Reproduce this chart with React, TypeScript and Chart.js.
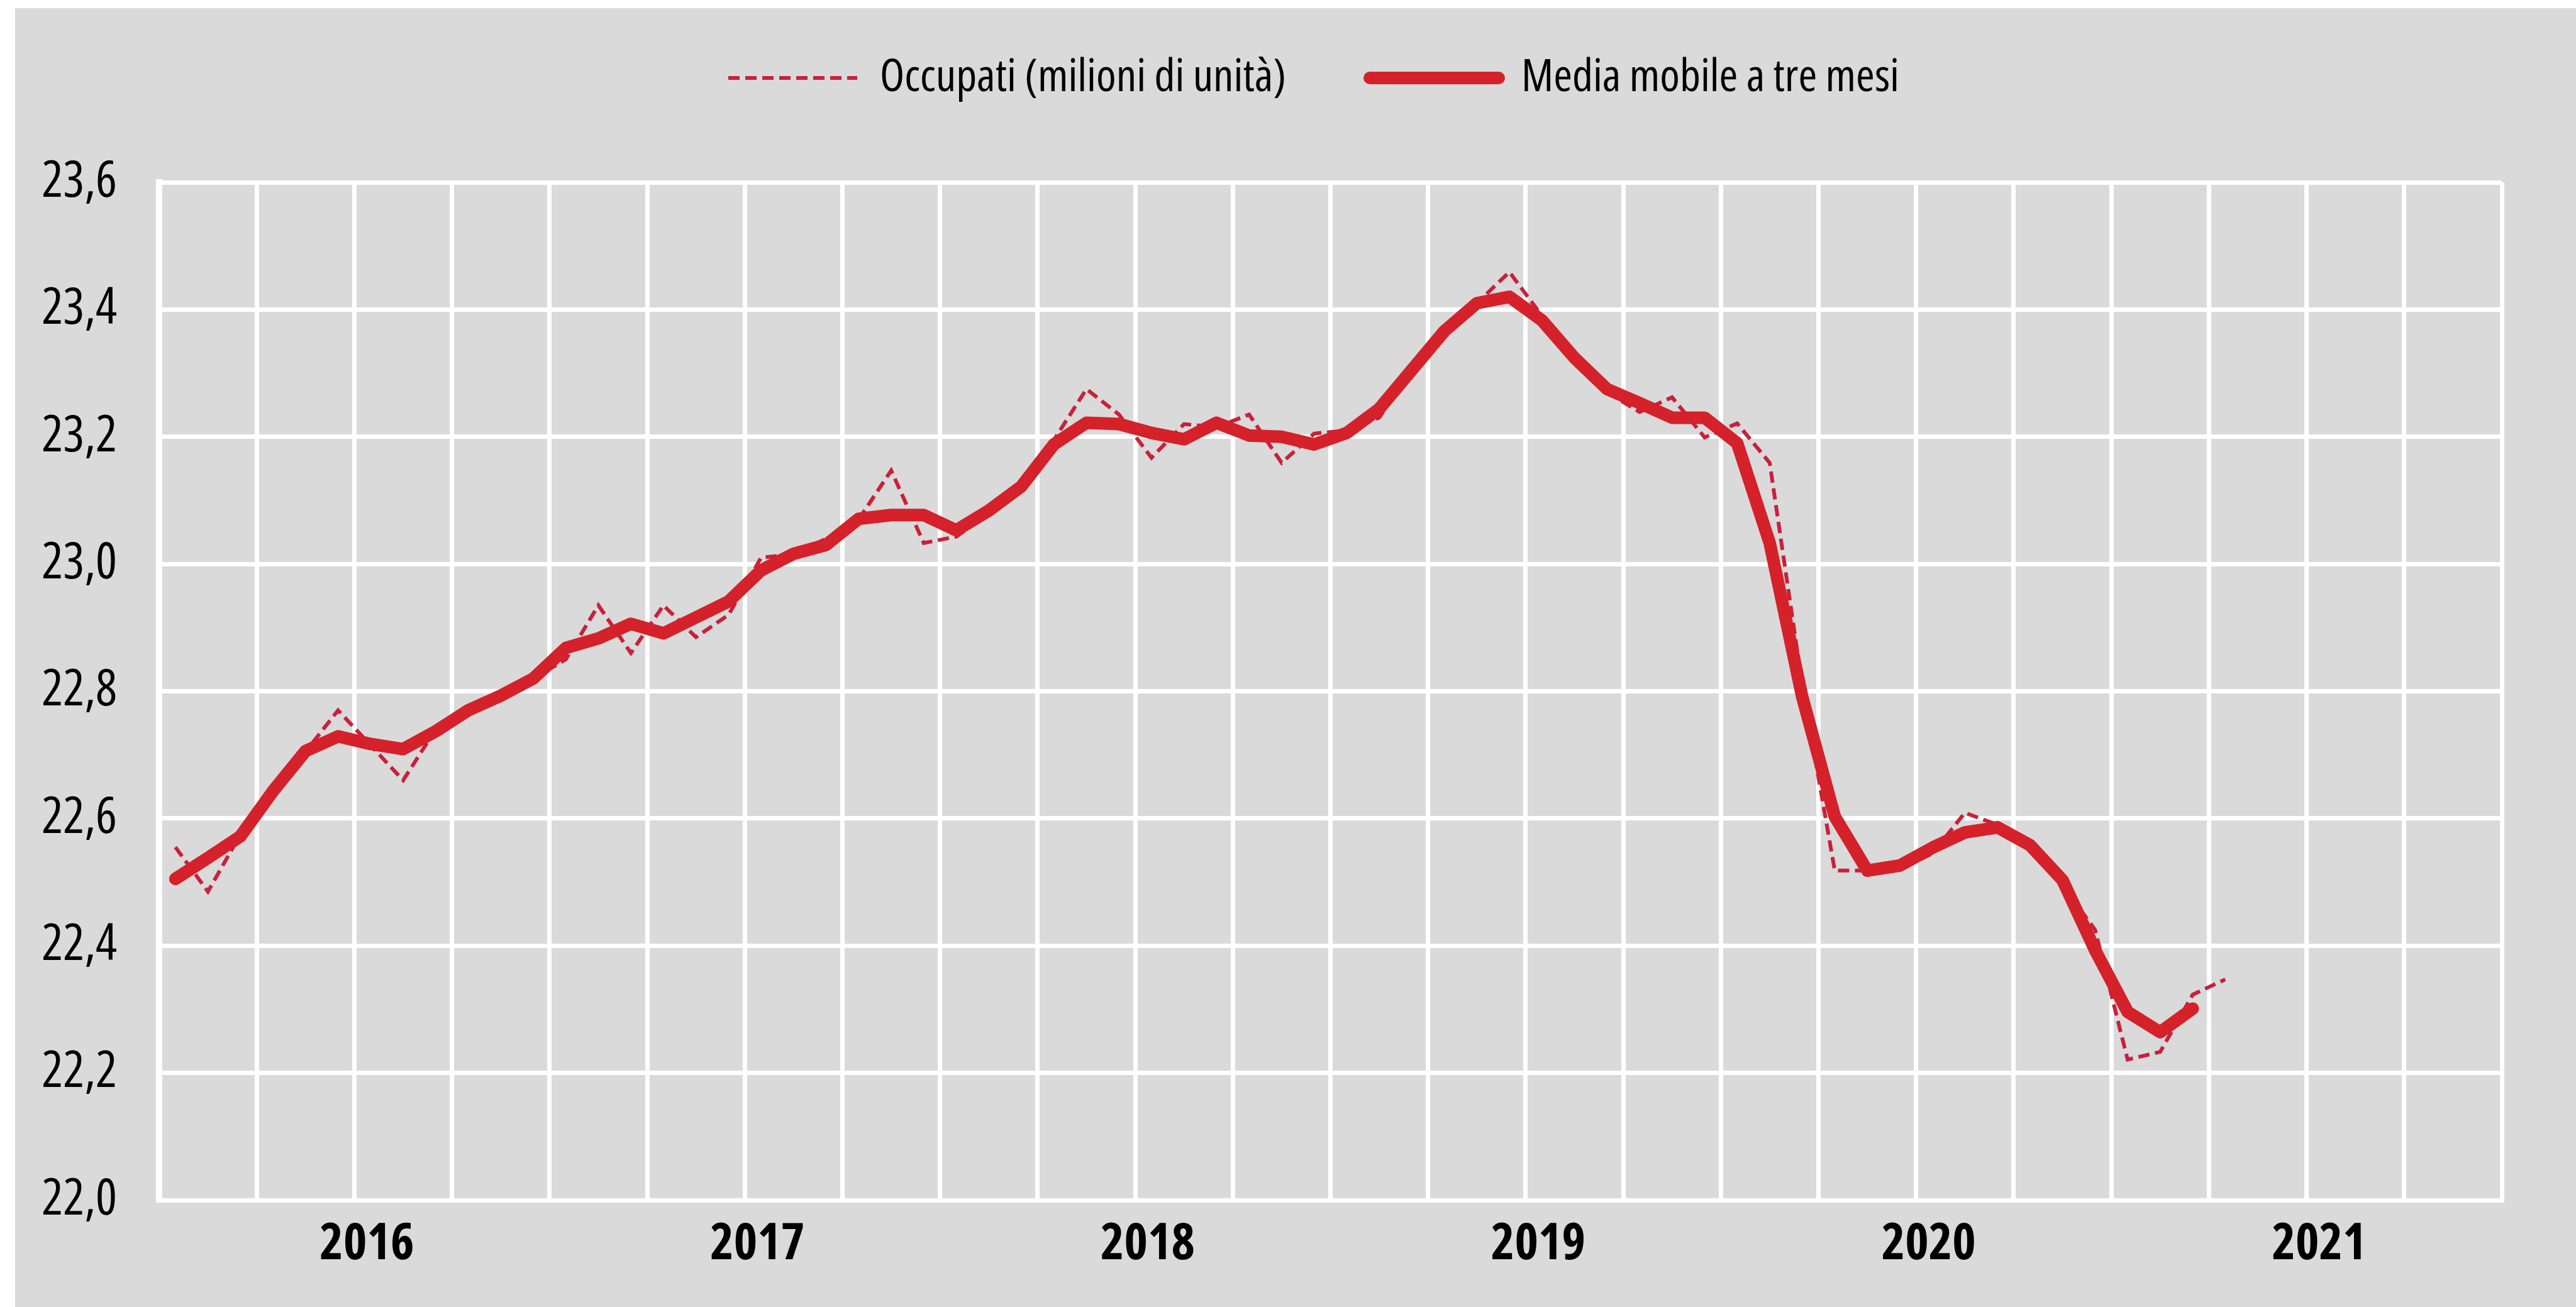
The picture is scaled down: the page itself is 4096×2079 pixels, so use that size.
import React, { useEffect, useRef } from 'react';
import { Chart, registerables } from 'chart.js';

Chart.register(...registerables);

// Open Sans in its condensed width stands in for the narrow face of the original
const FONT = "'Open Sans', 'Liberation Sans', sans-serif";
const REGULAR = 'condensed';
const BOLD = 'bold condensed';

// Year labels on the x axis (each year spans 12 months, grid every quarter)
const yearLabels = ['2016', '2017', '2018', '2019', '2020', '2021'];

// Monthly values, January 2016 onward (millions)
const occupati = [
  22.555, 22.485, 22.575, 22.645, 22.705, 22.770, 22.715, 22.660, 22.740, 22.765, 22.790, 22.820,
  22.850, 22.935, 22.860, 22.935, 22.885, 22.920, 23.010, 23.015, 23.040, 23.070, 23.147, 23.033,
  23.043, 23.080, 23.120, 23.195, 23.275, 23.235, 23.167, 23.220, 23.215, 23.235, 23.159, 23.205,
  23.210, 23.230, 23.310, 23.375, 23.410, 23.459, 23.390, 23.320, 23.270, 23.239, 23.262, 23.199,
  23.221, 23.159, 22.810, 22.518, 22.518, 22.520, 22.545, 22.609, 22.590, 22.560, 22.495, 22.425,
  22.221, 22.233, 22.323, 22.347,
];

const mediaMobile = [
  22.505, 22.538, 22.572, 22.643, 22.706, 22.729, 22.717, 22.709, 22.737, 22.770, 22.793, 22.820,
  22.868, 22.883, 22.906, 22.891, 22.916, 22.941, 22.990, 23.016, 23.030, 23.071, 23.077, 23.077,
  23.053, 23.084, 23.122, 23.188, 23.222, 23.220, 23.206, 23.196, 23.222, 23.202, 23.200, 23.188,
  23.206, 23.244, 23.305, 23.366, 23.410, 23.420, 23.383, 23.324, 23.275, 23.253, 23.230, 23.230,
  23.190, 23.033, 22.791, 22.603, 22.518, 22.526, 22.554, 22.578, 22.586, 22.558, 22.503, 22.393,
  22.296, 22.264, 22.301,
];

const TOTAL_MONTHS = yearLabels.length * 12;
const MONTHS_PER_GRID = 3;

const toPoints = (arr: number[]) => arr.map((v, i) => ({ x: i + 0.5, y: v }));

export default function App() {
  const ref = useRef<HTMLCanvasElement>(null);

  useEffect(() => {
    const canvas = ref.current;
    if (!canvas) return;

    const legendSpacer = {
      id: 'legendSpacer',
      beforeInit(chart: any) {
        const legend = chart.legend;
        if (!legend) return;
        const origFit = legend.fit.bind(legend);
        legend.fit = function () {
          origFit();
          this.height = 335;
        };
      },
      afterLayout(chart: any) {
        const legend = chart.legend;
        if (!legend) return;
        legend.left += 88;
        legend.right += 88;
      },
    };

    const chart = new Chart(canvas, {
      type: 'line',
      data: {
        datasets: [
          {
            label: 'Occupati (milioni di unità)',
            data: toPoints(occupati),
            borderColor: '#C8213A',
            backgroundColor: '#C8213A',
            borderWidth: 6,
            borderDash: [18, 9],
            pointRadius: 0,
            tension: 0,
            fill: false,
            order: 1,
          },
          {
            label: 'Media mobile a tre mesi',
            data: toPoints(mediaMobile),
            borderColor: '#D4212A',
            backgroundColor: '#D4212A',
            borderWidth: 20,
            borderCapStyle: 'round',
            borderJoinStyle: 'round',
            pointRadius: 0,
            tension: 0,
            fill: false,
            order: 0,
          },
        ],
      },
      options: {
        animation: false,
        responsive: false,
        maintainAspectRatio: false,
        layout: { padding: { top: -58, left: 0, right: 118, bottom: 0 } },
        plugins: {
          tooltip: { enabled: false },
          legend: {
            display: true,
            position: 'top',
            labels: {
              usePointStyle: true,
              pointStyle: 'line',
              pointStyleWidth: 205,
              padding: 133,
              color: '#000',
              font: { family: FONT, size: 72, weight: REGULAR },
              generateLabels: (ch: any) =>
                ch.data.datasets.map((ds: any, i: number) => ({
                  text: ds.label,
                  fillStyle: ds.borderColor,
                  strokeStyle: ds.borderColor,
                  lineWidth: ds.borderWidth,
                  lineDash: ds.borderDash || [],
                  lineCap: ds.borderCapStyle || 'butt',
                  pointStyle: 'line',
                  hidden: false,
                  datasetIndex: i,
                  fontColor: '#000',
                })),
            },
          },
        },
        scales: {
          x: {
            type: 'linear',
            min: 0,
            max: TOTAL_MONTHS,
            afterBuildTicks: (scale: any) => {
              const t = [];
              for (let v = 0; v <= TOTAL_MONTHS; v += MONTHS_PER_GRID) t.push({ value: v });
              scale.ticks = t;
            },
            afterFit: (scale: any) => {
              scale.height = 170;
            },
            grid: { color: '#ffffff', lineWidth: 7, drawTicks: false },
            border: { display: true, color: '#ffffff', width: 7 },
            ticks: {
              autoSkip: false,
              maxRotation: 0,
              minRotation: 0,
              padding: 23,
              labelOffset: 20,
              color: '#000',
              font: { family: FONT, size: 80, weight: BOLD },
              callback: (value: any) => {
                const v = Number(value);
                if (v % 12 === 6) return yearLabels[(v - 6) / 12];
                return '';
              },
            },
          },
          y: {
            min: 22,
            max: 23.6,
            afterFit: (scale: any) => {
              scale.width = 229;
            },
            grid: { color: '#ffffff', lineWidth: 7, drawTicks: false },
            border: { display: true, color: '#ffffff', width: 10 },
            ticks: {
              stepSize: 0.2,
              padding: 67,
              color: '#000',
              font: { family: FONT, size: 80, weight: REGULAR },
              callback: (value: any) => Number(value).toFixed(1).replace('.', ','),
            },
          },
        },
      },
      plugins: [legendSpacer],
    } as any);

    return () => chart.destroy();
  }, []);

  return (
    <div
      style={{
        position: 'fixed',
        left: 0,
        top: 0,
        width: 4096,
        height: 2079,
        background: '#ffffff',
        overflow: 'hidden',
      }}
    >
      <div
        style={{
          position: 'absolute',
          left: 24,
          top: 13,
          width: 4072,
          height: 2066,
          background: '#dadada',
        }}
      >
        <canvas ref={ref} width={4072} height={2066} style={{ display: 'block', width: 4072, height: 2066 }} />
      </div>
    </div>
  );
}
